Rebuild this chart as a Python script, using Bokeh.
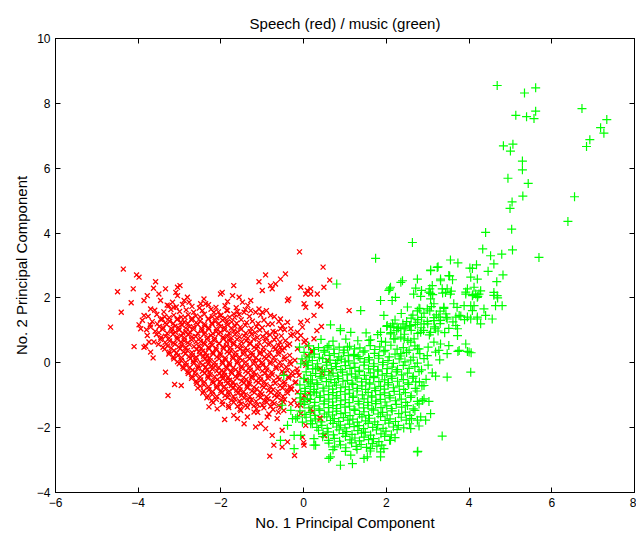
from bokeh.plotting import figure
from bokeh.models import LinearAxis, FixedTicker, ColumnDataSource
from bokeh.embed import file_html
from bokeh.resources import INLINE

title_text = "Speech (red) / music (green)"
xlabel = "No. 1 Principal Component"
ylabel = "No. 2 Principal Component"
x_ticks = [-6, -4, -2, 0, 2, 4, 6, 8]
x_tick_labels = ["\u22126", "\u22124", "\u22122", "0", "2", "4", "6", "8"]
y_ticks = [-4, -2, 0, 2, 4, 6, 8, 10]
y_tick_labels = ["\u22124", "\u22122", "0", "2", "4", "6", "8", "10"]

# Speech (red) points: (PC1, PC2)
speech_pts = [
    (-4.36,2.89),(-4.04,2.71),(-3.98,2.64),(-4.50,2.19),(-4.12,2.28),(-3.58,2.50),(-3.63,2.30),(-3.34,2.28),
    (-3.05,2.33),(-2.99,2.38),(-3.09,2.17),(-4.17,1.85),(-3.86,1.92),(-3.78,2.07),(-3.50,2.12),(-3.46,1.92),
    (-4.41,1.56),(-3.86,1.46),(-3.70,1.66),(-2.81,2.02),(-2.89,1.92),(-2.77,1.87),(-3.05,2.07),(-3.17,1.87),
    (-3.26,1.76),(-3.14,1.71),(-2.41,1.97),(-2.49,1.82),(-4.67,1.10),(-3.98,1.17),(-3.94,1.05),(-3.70,1.10),
    (-3.54,1.20),(-3.42,1.35),(-3.78,0.84),(-3.86,0.48),(-4.10,0.50),(-3.62,0.64),(-3.70,0.33),(-3.82,0.51),
    (-3.74,0.64),(-3.64,0.15),(-3.34,-0.29),(-3.12,-0.67),(-2.96,-0.70),(-3.28,-1.01),
    (-0.10,3.42),(-0.92,2.71),(-0.44,2.74),(-0.56,2.58),(-0.68,2.43),(-0.80,2.38),(-1.08,2.50),(-1.00,2.23),
    (-0.76,2.28),(-1.69,2.38),(-1.97,2.17),(-2.01,2.12),(-1.72,2.07),(-1.56,2.02),(-1.84,1.89),(-1.48,1.87),
    (-1.28,1.92),(-0.36,1.97),(-0.39,1.92),(-0.07,2.33),(0.09,2.23),(0.17,2.28),(0.05,2.12),(0.17,2.12),
    (0.33,2.12),(0.01,1.82),(0.05,1.71),(0.33,1.82),(-2.37,1.82),
    (-2.17,1.56),(-2.01,1.46),(-1.84,1.61),(-1.69,1.51),(-1.44,1.56),(-1.28,1.61),(-1.08,1.66),(-1.00,1.56),
    (-0.80,1.46),(-0.76,1.20),(-0.56,1.35),(-0.39,1.25),(-0.31,1.05),(-0.56,1.05),(-0.68,0.94),(-0.07,1.25),
    (0.09,1.30),(0.25,1.46),(-0.03,1.10),(-0.07,0.84),(0.05,0.69),(-0.31,0.84),(-0.15,0.74),(-0.39,0.53),
    (-0.56,0.48),
    (0.47,2.95),(0.63,2.55),(0.49,2.33),(1.10,1.61),(0.41,1.75),(0.43,1.12),(0.32,0.99),(0.22,0.34),
    (0.57,0.07),(0.65,-0.28),(0.45,-0.33),(0.39,-1.70),(0.51,-2.25),(0.00,-2.46),(-0.22,-2.86),
    (-1.91,-1.75),(-1.60,-1.72),(-1.44,-1.88),(-1.16,-1.98),(-1.04,-1.88),(-0.92,-2.03),(-0.76,-2.24),
    (-0.72,-2.54),(-0.52,-2.60),(-0.39,-2.44),(-0.52,-2.08),(-0.82,-2.88),(0.01,-2.54),
    (-2.29,-1.36),(-2.09,-1.42),(-1.69,-1.62),(-1.52,-1.47),(-1.20,-1.52),(-1.36,-1.67),(-0.88,-1.67),
    (-0.64,-1.72),(-0.48,-1.47),(-0.31,-1.26),(-0.15,-1.31),(-0.03,-1.11),(0.13,-0.95),(0.21,-1.52),
    (0.05,-1.93),(-0.07,-1.57),
    (-0.15,0.43),(0.09,0.53),(0.21,0.33),(0.01,0.02),(-0.11,-0.39),(-0.19,-0.59),(-0.31,-0.80),
    (-0.15,0.94),(0.01,0.64),(0.25,0.74),(0.21,0.38),(0.09,0.22),(0.41,-0.18),(0.05,-0.08),(-0.15,-0.29),
    (0.05,-0.54),(-0.15,-0.90),(0.01,-1.01),(0.13,-1.16),(0.17,-1.42),(-0.07,-1.31),(-0.23,-1.16),
    (0.41,-1.72),(-0.03,-2.29),(0.49,-2.24),
    # dense body
    (-3.30,1.78),(-3.08,1.72),(-2.93,1.80),(-2.70,1.74),(-2.52,1.69),(-2.30,1.79),(-2.12,1.71),(-1.90,1.76),
    (-1.63,1.70),(-1.35,1.77),
    (-3.60,1.62),(-3.38,1.57),(-3.21,1.64),(-3.00,1.58),(-2.84,1.63),(-2.66,1.56),(-2.45,1.61),(-2.24,1.65),
    (-2.06,1.57),(-1.86,1.62),(-1.60,1.58),(-1.41,1.64),(-1.16,1.56),(-0.90,1.61),
    (-3.76,1.43),(-3.55,1.49),(-3.36,1.42),(-3.14,1.47),(-2.96,1.41),(-2.79,1.48),(-2.61,1.44),(-2.40,1.50),
    (-2.21,1.42),(-2.00,1.46),(-1.79,1.41),(-1.56,1.48),(-1.31,1.43),(-1.04,1.47),(-0.71,1.42),
    (-3.90,1.31),(-3.66,1.27),(-3.46,1.34),(-3.24,1.28),(-3.06,1.33),(-2.89,1.26),(-2.71,1.32),(-2.50,1.29),
    (-2.31,1.35),(-2.14,1.27),(-1.96,1.31),(-1.74,1.26),(-1.51,1.33),(-1.24,1.28),(-0.96,1.32),(-0.60,1.27),
    (-3.71,1.17),(-3.49,1.12),(-3.31,1.18),(-3.11,1.13),(-2.94,1.16),(-2.76,1.11),(-2.56,1.18),(-2.39,1.14),
    (-2.21,1.19),(-2.01,1.12),(-1.84,1.17),(-1.66,1.13),(-1.41,1.16),(-1.14,1.11),(-0.86,1.18),(-0.51,1.14),
    (-3.80,1.02),(-3.59,0.97),(-3.41,1.03),(-3.19,0.98),(-3.01,1.01),(-2.84,0.96),(-2.66,1.03),(-2.46,0.99),
    (-2.29,1.04),(-2.11,0.97),(-1.91,1.02),(-1.69,0.98),(-1.51,1.03),(-1.29,0.96),(-1.06,1.01),(-0.74,0.97),
    (-0.46,1.02),
    (-3.56,0.87),(-3.34,0.82),(-3.16,0.88),(-2.96,0.83),(-2.79,0.86),(-2.61,0.81),(-2.41,0.88),(-2.24,0.84),
    (-2.06,0.89),(-1.84,0.82),(-1.66,0.87),(-1.44,0.83),(-1.26,0.88),(-0.99,0.81),(-0.81,0.86),(-0.54,0.83),
    (-0.26,0.88),
    (-3.46,0.72),(-3.24,0.67),(-3.06,0.73),(-2.89,0.68),(-2.71,0.71),(-2.49,0.66),(-2.34,0.73),(-2.16,0.69),
    (-1.94,0.74),(-1.79,0.67),(-1.61,0.72),(-1.39,0.68),(-1.21,0.73),(-0.94,0.66),(-0.71,0.71),(-0.44,0.68),
    (-3.51,0.57),(-3.29,0.52),(-3.11,0.58),(-2.94,0.53),(-2.76,0.56),(-2.54,0.51),(-2.39,0.58),(-2.21,0.54),
    (-2.04,0.59),(-1.86,0.52),(-1.69,0.57),(-1.51,0.53),(-1.29,0.58),(-1.11,0.51),(-0.84,0.56),(-0.61,0.53),
    (-0.34,0.58),
    (-3.36,0.42),(-3.14,0.37),(-2.99,0.43),(-2.81,0.38),(-2.59,0.41),(-2.44,0.36),(-2.29,0.43),(-2.11,0.39),
    (-1.94,0.44),(-1.76,0.37),(-1.54,0.42),(-1.36,0.38),(-1.14,0.43),(-0.96,0.36),(-0.69,0.41),(-0.51,0.38),
    (-3.26,0.27),(-3.04,0.22),(-2.86,0.28),(-2.69,0.23),(-2.51,0.26),(-2.34,0.21),(-2.19,0.28),(-2.01,0.24),
    (-1.79,0.29),(-1.64,0.22),(-1.46,0.27),(-1.24,0.23),(-1.06,0.28),(-0.84,0.21),(-0.61,0.26),(-0.34,0.23),
    (-3.14,0.12),(-2.96,0.07),(-2.74,0.13),(-2.61,0.08),(-2.39,0.11),(-2.26,0.06),(-2.04,0.13),(-1.89,0.09),
    (-1.71,0.14),(-1.49,0.07),(-1.31,0.12),(-1.09,0.08),(-0.91,0.13),(-0.69,0.06),(-0.46,0.11),(-0.21,0.08),
    (-3.01,-0.03),(-2.84,-0.08),(-2.66,-0.02),(-2.44,-0.07),(-2.31,-0.04),(-2.14,-0.09),(-1.96,-0.02),
    (-1.79,-0.06),(-1.61,-0.01),(-1.39,-0.08),(-1.21,-0.03),(-0.99,-0.07),(-0.81,-0.02),(-0.54,-0.09),(-0.31,-0.04),
    (-2.91,-0.18),(-2.69,-0.23),(-2.56,-0.17),(-2.34,-0.22),(-2.21,-0.19),(-1.99,-0.24),(-1.86,-0.17),
    (-1.64,-0.21),(-1.51,-0.16),(-1.29,-0.23),(-1.11,-0.18),(-0.89,-0.22),(-0.66,-0.17),(-0.39,-0.24),(-0.16,-0.19),
    (-2.79,-0.33),(-2.61,-0.38),(-2.39,-0.32),(-2.26,-0.37),(-2.04,-0.34),(-1.91,-0.39),(-1.74,-0.32),
    (-1.56,-0.36),(-1.34,-0.31),(-1.16,-0.38),(-0.94,-0.33),(-0.76,-0.37),(-0.49,-0.32),(-0.26,-0.39),
    (-2.71,-0.48),(-2.49,-0.53),(-2.31,-0.47),(-2.09,-0.52),(-1.96,-0.49),(-1.79,-0.54),(-1.61,-0.47),
    (-1.39,-0.51),(-1.26,-0.46),(-1.04,-0.53),(-0.86,-0.48),(-0.59,-0.52),(-0.36,-0.47),
    (-2.59,-0.63),(-2.41,-0.68),(-2.19,-0.62),(-2.01,-0.67),(-1.84,-0.64),(-1.66,-0.69),(-1.44,-0.62),
    (-1.31,-0.66),(-1.09,-0.61),(-0.91,-0.68),(-0.69,-0.63),(-0.46,-0.67),(-0.21,-0.62),
    (-2.56,-0.78),(-2.29,-0.83),(-2.11,-0.77),(-1.89,-0.82),(-1.71,-0.79),(-1.54,-0.84),(-1.36,-0.77),
    (-1.14,-0.81),(-0.96,-0.76),(-0.74,-0.83),(-0.51,-0.78),(-0.29,-0.82),
    (-2.44,-0.93),(-2.21,-0.98),(-1.99,-0.92),(-1.81,-0.97),(-1.59,-0.94),(-1.41,-0.99),(-1.19,-0.92),
    (-1.01,-0.96),(-0.79,-0.91),(-0.61,-0.98),(-0.39,-0.93),
    (-2.34,-1.08),(-2.11,-1.13),(-1.84,-1.07),(-1.66,-1.12),(-1.44,-1.09),(-1.26,-1.14),(-1.04,-1.07),
    (-0.86,-1.11),(-0.64,-1.06),(-0.46,-1.13),
    (-2.19,-1.23),(-1.96,-1.28),(-1.69,-1.22),(-1.51,-1.27),(-1.29,-1.24),(-1.11,-1.29),(-0.89,-1.22),
    (-0.71,-1.26),(-0.49,-1.21),
    (-1.81,-1.38),(-1.54,-1.43),(-1.36,-1.37),(-1.14,-1.42),(-0.96,-1.39),(-0.74,-1.44),(-0.56,-1.37),
    (-1.11,-1.53),(-0.84,-1.58),(-0.61,-1.52),
    # core, second layer
    (-3.25,1.39),(-3.05,1.36),(-2.87,1.40),(-2.70,1.37),(-2.50,1.41),(-2.30,1.36),(-2.10,1.39),(-1.90,1.37),(-1.67,1.40),
    (-3.35,1.23),(-3.15,1.21),(-2.97,1.25),(-2.80,1.22),(-2.60,1.24),(-2.40,1.20),(-2.22,1.23),(-2.05,1.21),
    (-1.85,1.25),(-1.62,1.22),(-1.38,1.24),(-1.10,1.21),
    (-3.40,1.08),(-3.20,1.06),(-3.03,1.09),(-2.85,1.07),(-2.66,1.10),(-2.47,1.06),(-2.30,1.08),(-2.11,1.05),
    (-1.92,1.09),(-1.75,1.07),(-1.53,1.10),(-1.27,1.06),(-1.00,1.08),
    (-3.50,0.93),(-3.30,0.91),(-3.10,0.94),(-2.92,0.92),(-2.75,0.95),(-2.56,0.91),(-2.38,0.93),(-2.20,0.90),
    (-2.01,0.94),(-1.80,0.92),(-1.60,0.95),(-1.40,0.91),(-1.17,0.93),(-0.90,0.92),
    (-3.45,0.78),(-3.25,0.76),(-3.06,0.79),(-2.88,0.77),(-2.70,0.80),(-2.50,0.76),(-2.32,0.78),(-2.15,0.75),
    (-1.95,0.79),(-1.75,0.77),(-1.55,0.80),(-1.35,0.76),(-1.12,0.78),(-0.90,0.77),(-0.67,0.79),
    (-3.35,0.63),(-3.15,0.61),(-2.97,0.64),(-2.80,0.62),(-2.60,0.65),(-2.42,0.61),(-2.25,0.63),(-2.05,0.60),
    (-1.87,0.64),(-1.70,0.62),(-1.50,0.65),(-1.30,0.61),(-1.08,0.63),(-0.82,0.62),(-0.57,0.64),
    (-3.40,0.48),(-3.20,0.46),(-3.02,0.49),(-2.85,0.47),(-2.65,0.50),(-2.47,0.46),(-2.30,0.48),(-2.12,0.45),
    (-1.95,0.49),(-1.77,0.47),(-1.60,0.50),(-1.40,0.46),(-1.20,0.48),(-0.97,0.47),(-0.72,0.49),(-0.47,0.46),
    (-3.25,0.33),(-3.07,0.31),(-2.90,0.34),(-2.70,0.32),(-2.52,0.35),(-2.37,0.31),(-2.20,0.33),(-2.02,0.30),
    (-1.85,0.34),(-1.65,0.32),(-1.45,0.35),(-1.25,0.31),(-1.05,0.33),(-0.82,0.32),(-0.60,0.34),
    (-3.15,0.18),(-2.95,0.16),(-2.77,0.19),(-2.60,0.17),(-2.42,0.20),(-2.27,0.16),(-2.10,0.18),(-1.90,0.15),
    (-1.72,0.19),(-1.55,0.17),(-1.35,0.20),(-1.15,0.16),(-0.95,0.18),(-0.72,0.17),(-0.47,0.19),
    (-3.05,0.03),(-2.85,0.01),(-2.67,0.04),(-2.50,0.02),(-2.32,0.05),(-2.15,0.01),(-1.97,0.03),(-1.80,0.00),
    (-1.60,0.04),(-1.40,0.02),(-1.20,0.05),(-1.00,0.01),(-0.80,0.03),(-0.57,0.02),(-0.33,0.04),
    (-2.92,-0.12),(-2.75,-0.14),(-2.55,-0.11),(-2.37,-0.13),(-2.22,-0.10),(-2.05,-0.14),(-1.87,-0.12),
    (-1.70,-0.15),(-1.50,-0.11),(-1.30,-0.13),(-1.10,-0.10),(-0.90,-0.14),(-0.67,-0.12),(-0.42,-0.13),
    (-2.80,-0.27),(-2.62,-0.29),(-2.45,-0.26),(-2.27,-0.28),(-2.10,-0.25),(-1.92,-0.29),(-1.75,-0.27),
    (-1.57,-0.30),(-1.40,-0.26),(-1.20,-0.28),(-1.00,-0.25),(-0.77,-0.29),(-0.52,-0.27),(-0.27,-0.28),
    (-2.70,-0.42),(-2.50,-0.44),(-2.32,-0.41),(-2.15,-0.43),(-1.97,-0.40),(-1.82,-0.44),(-1.65,-0.42),
    (-1.45,-0.45),(-1.25,-0.41),(-1.05,-0.43),(-0.85,-0.40),(-0.62,-0.44),(-0.37,-0.42),
    (-2.60,-0.57),(-2.40,-0.59),(-2.20,-0.56),(-2.02,-0.58),(-1.87,-0.55),(-1.70,-0.59),(-1.50,-0.57),
    (-1.32,-0.60),(-1.15,-0.56),(-0.95,-0.58),(-0.72,-0.55),(-0.47,-0.59),
    (-2.50,-0.72),(-2.30,-0.74),(-2.10,-0.71),(-1.92,-0.73),(-1.75,-0.70),(-1.55,-0.74),(-1.37,-0.72),
    (-1.20,-0.75),(-1.00,-0.71),(-0.80,-0.73),(-0.57,-0.70),(-0.33,-0.74),
    (-2.42,-0.87),(-2.20,-0.89),(-2.00,-0.86),(-1.80,-0.88),(-1.62,-0.85),(-1.45,-0.89),(-1.25,-0.87),
    (-1.05,-0.90),(-0.85,-0.86),(-0.62,-0.88),(-0.40,-0.85),
    (-2.32,-1.02),(-2.10,-1.04),(-1.90,-1.01),(-1.70,-1.03),(-1.50,-1.00),(-1.30,-1.04),(-1.10,-1.02),
    (-0.90,-1.05),(-0.70,-1.01),(-0.50,-1.03),
    (-2.22,-1.17),(-1.97,-1.19),(-1.75,-1.16),(-1.55,-1.18),(-1.35,-1.15),(-1.15,-1.19),(-0.95,-1.17),
    (-0.75,-1.20),(-0.55,-1.16),
    (-1.82,-1.32),(-1.60,-1.34),(-1.40,-1.31),(-1.20,-1.33),(-1.00,-1.30),(-0.80,-1.34),(-0.60,-1.32),
]

# Music (green) points: (PC1, PC2)
music_pts = [
    (4.68,8.55),(5.34,8.32),(5.61,8.48),(6.73,7.84),(5.13,7.63),(5.39,7.59),(5.57,7.53),(5.61,7.76),
    (7.33,7.50),(7.18,7.25),(7.26,7.08),(6.92,6.88),(6.84,6.67),(4.83,6.69),(5.06,6.74),(5.00,6.53),
    (5.29,6.22),(5.29,5.95),(4.94,5.69),(5.43,5.53),(5.30,5.14),(5.04,4.96),(4.99,4.76),(6.55,5.12),
    (6.39,4.36),(4.40,4.02),(5.03,4.12),(4.33,3.51),(5.05,3.48),(5.69,3.25),(4.52,3.30),(4.79,3.35),
    (4.60,3.05),(3.55,3.17),(3.73,3.08),(4.18,3.02),(4.02,2.92),(4.46,2.82),(4.82,2.71),(2.63,3.71),
    (3.07,2.86),(3.25,2.96),(2.39,2.53),(2.75,2.58),(3.53,2.68),(3.60,2.56),(3.31,2.58),(4.04,2.64),
    (4.20,2.58),(4.08,2.91),(4.67,2.50),
    (2.66,2.12),(2.83,2.05),(3.03,2.18),(3.12,2.10),(3.36,2.15),(3.55,2.12),(3.92,2.18),(4.09,2.10),
    (4.28,2.22),(4.60,2.08),(4.69,2.00),(4.21,2.05),
    (2.10,2.33),(2.06,2.23),(2.71,2.30),(2.85,2.23),(3.05,2.28),(3.07,2.14),(3.35,2.28),(3.43,2.17),
    (3.57,2.21),(3.96,2.28),(4.12,2.33),(3.92,2.12),(4.16,2.12),(4.20,2.02),(4.60,2.17),(4.68,2.07),
    (4.64,1.76),(4.80,1.76),(1.86,1.92),(2.14,1.92),(2.22,2.02),
    (3.07,1.97),(3.15,1.82),(3.39,1.71),(2.99,1.66),(2.79,1.68),(3.63,1.82),(3.88,1.76),(4.04,1.76),
    (4.08,1.61),(4.36,1.66),(4.40,1.46),(4.56,1.35),(4.20,1.41),(3.96,1.41),(3.80,1.44),(3.68,1.41),
    (1.94,1.46),(2.02,1.15),(2.18,1.10),(2.35,1.05),(2.47,1.10),(2.59,1.15),(2.75,1.25),(2.91,1.20),
    (3.15,1.30),(3.27,1.41),(3.47,1.35),(3.68,1.15),(3.72,1.05),(3.19,1.05),(3.07,0.94),(2.83,0.94),
    (2.67,0.74),(2.43,0.74),(2.18,0.74),(1.98,0.64),(3.15,0.64),(3.31,0.58),(3.51,0.53),(3.72,0.84),
    (3.92,0.58),(4.00,0.33),(3.76,0.38),(2.35,0.28),(2.75,0.43),(2.99,0.22),(3.27,0.38),(3.47,0.28),
    (3.73,0.35),(3.96,0.35),(4.05,0.31),(4.04,-0.29),(3.47,-0.44),(3.19,-0.41),(2.91,-0.70),(2.71,-0.59),
    (3.03,-1.19),(2.87,-1.16),(3.07,-1.57),(2.83,-1.67),(2.95,-1.77),(2.75,-1.77),(2.59,-2.03),(2.79,-1.95),
    (3.35,-2.26),(2.76,-2.73),
    (1.74,3.22),(0.80,2.43),(1.38,1.61),(2.08,2.28),(2.35,2.48),(3.23,2.94),(3.07,2.84),(3.31,2.53),
    (3.51,2.69),(3.47,2.28),(3.11,2.38),
    (0.65,1.17),(0.89,1.05),(1.14,0.94),(1.86,0.94),(2.10,1.10),(2.26,1.10),(2.43,1.05),(4.04,1.35),
    (4.20,1.35),(4.12,1.76),(4.08,2.07),(4.24,2.12),(4.28,1.20),
    (0.89,-3.16),(1.18,-3.11),(0.61,-2.95),(1.86,-2.90),(1.46,-2.95),(1.62,-2.65),(1.94,-2.65),
    (0.25,-2.54),(-0.07,-2.24),(-0.23,-2.65),
    (-0.10,0.48),(-0.56,-2.39),(-0.23,-2.24),(-0.39,-1.93),(-0.48,-0.39),(-0.52,-1.31),(-0.31,-1.47),
    (-0.27,-1.72),(-0.15,-1.67),(-0.03,-1.83),(0.17,-1.88),(0.29,-2.54),(0.25,-2.34),
    (-0.07,-0.03),(0.09,-0.08),(0.29,-0.18),(0.13,0.17),(0.01,-0.49),(0.17,-0.65),(-0.07,-0.95),
    (0.09,-1.11),(0.25,-0.90),(-0.07,-1.21),
    (0.65,-2.90),(1.14,-2.85),(1.54,-2.90),(1.86,-2.75),(2.10,-2.39),(2.75,-2.75),
    (1.58,0.69),(2.10,0.89),(2.35,0.79),(2.59,0.64),(2.79,0.43),(0.89,0.99),(-0.19,-1.72),
    (0.57,0.48),(0.81,0.07),(1.06,0.48),(1.22,0.22),
    # dense body
    (0.42,0.72),(0.71,0.67),(1.02,0.73),(1.31,0.68),(1.62,0.71),(1.88,0.66),(2.21,0.74),(2.52,0.69),
    (0.12,0.52),(0.36,0.47),(0.61,0.53),(0.86,0.48),(1.11,0.51),(1.36,0.46),(1.61,0.53),(1.84,0.49),
    (2.11,0.54),(2.41,0.47),(2.69,0.52),(3.01,0.48),
    (0.01,0.32),(0.26,0.27),(0.51,0.33),(0.74,0.28),(0.96,0.31),(1.21,0.26),(1.44,0.33),(1.71,0.29),
    (1.94,0.34),(2.21,0.27),(2.49,0.32),(2.81,0.28),(3.19,0.33),
    (-0.04,0.12),(0.21,0.07),(0.46,0.13),(0.64,0.08),(0.91,0.11),(1.09,0.06),(1.36,0.13),(1.59,0.09),
    (1.81,0.14),(2.04,0.07),(2.31,0.12),(2.59,0.08),(2.91,0.13),(3.29,0.09),
    (0.11,-0.08),(0.34,-0.13),(0.56,-0.07),(0.79,-0.12),(1.01,-0.09),(1.24,-0.14),(1.46,-0.07),
    (1.69,-0.11),(1.91,-0.06),(2.14,-0.13),(2.41,-0.08),(2.69,-0.12),(3.01,-0.07),
    (0.06,-0.28),(0.29,-0.33),(0.51,-0.27),(0.71,-0.32),(0.94,-0.29),(1.16,-0.34),(1.34,-0.27),
    (1.61,-0.31),(1.79,-0.26),(2.01,-0.33),(2.24,-0.28),(2.51,-0.32),(2.79,-0.27),(3.11,-0.31),
    (0.01,-0.48),(0.21,-0.53),(0.44,-0.47),(0.66,-0.52),(0.84,-0.49),(1.06,-0.54),(1.29,-0.47),
    (1.51,-0.51),(1.69,-0.46),(1.96,-0.53),(2.14,-0.48),(2.41,-0.52),(2.64,-0.47),(2.96,-0.51),
    (-0.09,-0.68),(0.16,-0.73),(0.34,-0.67),(0.61,-0.72),(0.79,-0.69),(1.01,-0.74),(1.19,-0.67),
    (1.41,-0.71),(1.59,-0.66),(1.86,-0.73),(2.04,-0.68),(2.31,-0.72),(2.54,-0.67),(2.86,-0.71),
    (0.04,-0.88),(0.31,-0.93),(0.49,-0.87),(0.71,-0.92),(0.89,-0.89),(1.11,-0.94),(1.29,-0.87),
    (1.56,-0.91),(1.74,-0.86),(1.96,-0.93),(2.19,-0.88),(2.46,-0.92),(2.74,-0.87),
    (-0.09,-1.08),(0.16,-1.13),(0.39,-1.07),(0.61,-1.12),(0.79,-1.09),(1.01,-1.14),(1.19,-1.07),
    (1.46,-1.11),(1.64,-1.06),(1.86,-1.13),(2.09,-1.08),(2.36,-1.12),(2.59,-1.07),(2.91,-1.11),
    (0.01,-1.28),(0.26,-1.33),(0.49,-1.27),(0.71,-1.32),(0.89,-1.29),(1.11,-1.34),(1.34,-1.27),
    (1.56,-1.31),(1.74,-1.26),(2.01,-1.33),(2.24,-1.28),(2.51,-1.32),(2.79,-1.27),
    (-0.09,-1.48),(0.16,-1.53),(0.39,-1.47),(0.61,-1.52),(0.79,-1.49),(1.01,-1.54),(1.24,-1.47),
    (1.46,-1.51),(1.69,-1.46),(1.91,-1.53),(2.14,-1.48),(2.46,-1.52),(2.69,-1.47),
    (0.06,-1.68),(0.29,-1.73),(0.56,-1.67),(0.74,-1.72),(0.96,-1.69),(1.19,-1.74),(1.41,-1.67),
    (1.59,-1.71),(1.86,-1.66),(2.09,-1.73),(2.36,-1.68),(2.61,-1.72),
    (0.21,-1.88),(0.44,-1.93),(0.71,-1.87),(0.89,-1.92),(1.11,-1.89),(1.34,-1.94),(1.56,-1.87),
    (1.79,-1.91),(2.06,-1.86),(2.29,-1.93),(2.56,-1.88),
    (0.36,-2.08),(0.59,-2.13),(0.86,-2.07),(1.04,-2.12),(1.31,-2.09),(1.49,-2.14),(1.76,-2.07),
    (1.99,-2.11),(2.26,-2.06),
    (0.46,-2.28),(0.74,-2.33),(1.01,-2.27),(1.24,-2.32),(1.46,-2.29),(1.69,-2.34),(1.96,-2.27),(2.21,-2.31),
    (0.61,-2.48),(0.89,-2.53),(1.16,-2.47),(1.39,-2.52),(1.66,-2.49),(1.89,-2.54),
    (0.71,-2.68),(1.01,-2.73),(1.29,-2.67),(1.61,-2.72),
    (1.51,0.92),(1.79,0.87),(2.11,0.93),(2.44,0.88),(2.76,0.91),(3.04,0.86),(3.41,0.93),
    (2.01,1.12),(2.29,1.07),(2.56,1.13),(2.84,1.08),(3.16,1.11),(3.51,1.06),
    (2.21,1.32),(2.49,1.27),(2.76,1.33),(2.99,1.28),(3.31,1.31),(3.61,1.26),(3.89,1.33),
    (2.36,1.52),(2.64,1.47),(2.91,1.53),(3.21,1.48),(3.44,1.51),(3.76,1.46),
    (2.51,1.72),(2.81,1.67),(3.09,1.73),(3.39,1.68),(3.71,1.71),
    # core, second layer
    (0.24,0.41),(0.49,0.38),(0.73,0.42),(0.98,0.39),(1.23,0.43),(1.48,0.37),(1.72,0.41),(1.97,0.38),(2.26,0.42),(2.55,0.39),
    (0.14,0.21),(0.38,0.17),(0.62,0.23),(0.85,0.18),(1.08,0.22),(1.32,0.19),(1.57,0.16),(1.82,0.22),
    (2.07,0.18),(2.35,0.21),(2.65,0.17),
    (0.08,0.02),(0.33,-0.03),(0.55,0.01),(0.77,-0.02),(1.00,0.03),(1.22,-0.01),(1.47,0.02),(1.70,-0.03),
    (1.92,0.01),(2.17,-0.02),(2.45,0.03),(2.75,-0.01),
    (0.22,-0.19),(0.45,-0.22),(0.67,-0.18),(0.90,-0.21),(1.12,-0.17),(1.35,-0.23),(1.57,-0.19),(1.80,-0.22),
    (2.02,-0.18),(2.27,-0.21),(2.55,-0.17),(2.85,-0.22),
    (0.17,-0.39),(0.40,-0.42),(0.61,-0.38),(0.82,-0.41),(1.05,-0.37),(1.25,-0.43),(1.47,-0.39),(1.70,-0.42),
    (1.90,-0.38),(2.12,-0.41),(2.37,-0.37),(2.65,-0.42),
    (0.11,-0.59),(0.32,-0.62),(0.55,-0.58),(0.75,-0.61),(0.95,-0.57),(1.17,-0.63),(1.40,-0.59),(1.60,-0.62),
    (1.82,-0.58),(2.05,-0.61),(2.27,-0.57),(2.52,-0.62),(2.80,-0.59),
    (0.03,-0.79),(0.25,-0.82),(0.47,-0.78),(0.70,-0.81),(0.90,-0.77),(1.10,-0.83),(1.30,-0.79),(1.50,-0.82),
    (1.72,-0.78),(1.95,-0.81),(2.17,-0.77),(2.42,-0.82),(2.70,-0.79),
    (0.17,-0.99),(0.40,-1.02),(0.60,-0.98),(0.80,-1.01),(1.00,-0.97),(1.20,-1.03),(1.42,-0.99),(1.65,-1.02),
    (1.85,-0.98),(2.07,-1.01),(2.32,-0.97),(2.60,-1.02),
    (0.03,-1.19),(0.27,-1.22),(0.50,-1.18),(0.70,-1.21),(0.90,-1.17),(1.10,-1.23),(1.32,-1.19),(1.55,-1.22),
    (1.75,-1.18),(1.97,-1.21),(2.22,-1.17),(2.47,-1.22),(2.75,-1.19),
    (0.13,-1.39),(0.37,-1.42),(0.60,-1.38),(0.80,-1.41),(1.00,-1.37),(1.22,-1.43),(1.45,-1.39),(1.65,-1.42),
    (1.87,-1.38),(2.12,-1.41),(2.37,-1.37),(2.65,-1.42),
    (0.03,-1.59),(0.27,-1.62),(0.50,-1.58),(0.70,-1.61),(0.90,-1.57),(1.12,-1.63),(1.35,-1.59),(1.57,-1.62),
    (1.80,-1.58),(2.02,-1.61),(2.30,-1.57),(2.57,-1.62),
    (0.17,-1.79),(0.42,-1.82),(0.65,-1.78),(0.85,-1.81),(1.07,-1.77),(1.30,-1.83),(1.50,-1.79),(1.72,-1.82),
    (1.97,-1.78),(2.22,-1.81),(2.48,-1.77),
    (0.32,-1.99),(0.57,-2.02),(0.80,-1.98),(1.00,-2.01),(1.22,-1.97),(1.45,-2.03),(1.67,-1.99),(1.92,-2.02),
    (2.17,-1.98),(2.42,-2.01),
    (0.47,-2.19),(0.72,-2.22),(0.95,-2.18),(1.17,-2.21),(1.40,-2.17),(1.62,-2.23),(1.87,-2.19),(2.12,-2.22),
    (0.60,-2.39),(0.87,-2.42),(1.12,-2.38),(1.35,-2.41),(1.57,-2.37),(1.82,-2.43),(2.08,-2.39),
    (0.75,-2.59),(1.02,-2.62),(1.27,-2.58),(1.52,-2.61),(1.77,-2.57),
    (2.25,0.99),(2.60,1.00),(2.90,1.00),(3.25,0.98),(2.15,1.20),(2.40,1.20),(2.70,1.18),(3.00,1.20),
    (3.30,1.21),(2.60,1.38),(2.85,1.40),(3.15,1.39),(3.45,1.40),(2.75,1.60),(3.05,1.60),(3.30,1.59),
]

speech_x = [p[0] for p in speech_pts]
speech_y = [p[1] for p in speech_pts]
music_x = [p[0] for p in music_pts]
music_y = [p[1] for p in music_pts]

FONT = "Liberation Sans"

p = figure(width=636, height=533, x_range=(-6, 8), y_range=(-4, 10),
           output_backend="svg", toolbar_location=None,
           min_border_left=55, min_border_right=2, min_border_top=38, min_border_bottom=39,
           background_fill_color="white", border_fill_color="white")
p.title.text = title_text
p.title.align = "center"
p.title.text_font = FONT
p.title.text_font_size = "15px"
p.title.text_font_style = "normal"
p.title.text_color = "black"
p.title.standoff = 14

p.xgrid.visible = False
p.ygrid.visible = False
p.outline_line_color = "black"
p.outline_line_width = 1

src_s = ColumnDataSource(dict(x=speech_x, y=speech_y))
src_m = ColumnDataSource(dict(x=music_x, y=music_y))
p.scatter("x", "y", source=src_s, marker="x", size=7, line_color="#ff0000", line_width=1.3)
p.scatter("x", "y", source=src_m, marker="cross", size=9, line_color="#00ff00", line_width=1.2)

def style_axis(ax, ticks, labels, show_labels=True):
    ax.ticker = FixedTicker(ticks=ticks)
    ax.major_label_overrides = {t: l for t, l in zip(ticks, labels)}
    ax.major_tick_in = 5
    ax.major_tick_out = 0
    ax.minor_tick_in = 0
    ax.minor_tick_out = 0
    ax.axis_line_color = "black"
    ax.major_tick_line_color = "black"
    ax.major_label_text_font = FONT
    ax.major_label_text_color = "black"
    if show_labels:
        ax.major_label_text_font_size = "12px"
        ax.major_label_standoff = 5
    else:
        ax.major_label_text_font_size = "0px"
        ax.major_label_standoff = 0

xa = p.xaxis[0]
ya = p.yaxis[0]
style_axis(xa, x_ticks, x_tick_labels)
style_axis(ya, y_ticks, y_tick_labels)
xa.axis_label = xlabel
ya.axis_label = ylabel
for ax in (xa, ya):
    ax.axis_label_text_font = FONT
    ax.axis_label_text_font_size = "15px"
    ax.axis_label_text_font_style = "normal"
    ax.axis_label_text_color = "black"
    ax.axis_label_standoff = 4

top_ax = LinearAxis()
right_ax = LinearAxis()
style_axis(top_ax, x_ticks, [""] * len(x_ticks), show_labels=False)
style_axis(right_ax, y_ticks, [""] * len(y_ticks), show_labels=False)
p.add_layout(top_ax, "above")
p.add_layout(right_ax, "right")

open("out.html", "w").write(file_html(p, INLINE))
